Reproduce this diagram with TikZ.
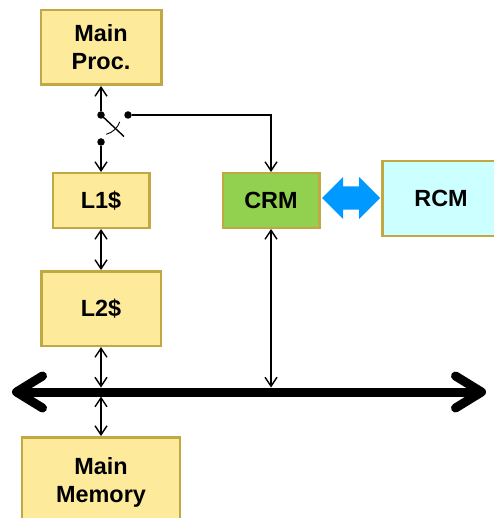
\documentclass[tikz,border=0pt]{standalone}
\usepackage{fontspec}
\setmainfont{Liberation Sans}
\usetikzlibrary{arrows.meta}
\definecolor{boxyellow}{HTML}{FDEA9A}
\definecolor{boxedge}{HTML}{C1A843}
\definecolor{crmgreen}{HTML}{92D050}
\definecolor{rcmcyan}{HTML}{CCFFFF}
\definecolor{linkblue}{HTML}{0099FF}
\begin{document}
\begin{tikzpicture}[x=1bp,y=-1bp,
  unitbox/.style={draw=boxedge, line width=2.5bp, fill=boxyellow, align=center,
    inner sep=0pt, font=\bfseries\fontsize{23.5}{28}\selectfont},
  conn/.style={line width=1.4bp, >={Straight Barb[length=9bp,width=12bp]}},
  busline/.style={line width=9bp, >={Straight Barb[length=26bp,width=32bp,round]}},
  swdot/.style={circle, fill=black, inner sep=0pt, minimum size=7.5bp}]
\clip (0,0) rectangle (494,518);

% processing units and memories
\node[unitbox, minimum width=120.5bp, minimum height=74.5bp] (proc) at (101,47.5) {Main\\Proc.};
\node[unitbox, minimum width=96.5bp, minimum height=54.5bp] (l1) at (101,200.5) {L1\$};
\node[unitbox, minimum width=119.5bp, minimum height=74.5bp] (l2) at (101,308.5) {L2\$};
\node[unitbox, fill=crmgreen, minimum width=96.5bp, minimum height=54.5bp] (crm) at (271,200.5) {CRM};
\node[unitbox, minimum width=157.5bp, minimum height=89.5bp] (mem) at (101,482) {Main\\Memory};

% wide link between CRM and RCM
\fill[linkblue] (322,198) -- (343,177) -- (343,186.4) -- (359,186.4) -- (359,177)
  -- (380,198) -- (359,219) -- (359,209.6) -- (343,209.6) -- (343,219) -- cycle;
\node[unitbox, fill=rcmcyan, minimum width=117.5bp, minimum height=74.5bp] (rcm) at (441,198.5) {RCM};

% switch between processor, L1 and CRM
\node[swdot] (pivot) at (101,115) {};
\node[swdot] (contact) at (128,115) {};
\node[swdot] (lower) at (101,142) {};
\coordinate (bladeEnd) at (124,136.5);
\draw[line width=1.4bp] (pivot.center) -- (bladeEnd);
\draw[line width=0.9bp] (pivot.center) ++(75:20) arc[start angle=75, end angle=20, radius=20];

\draw[conn, <-] (proc) -- (pivot);
\draw[conn, ->] (lower) -- (l1);
\draw[conn, ->] (contact) -| (crm);
\draw[conn, <->] (l1) -- (l2);

% system bus
\coordinate (busL) at (12,392);
\coordinate (busR) at (486,392);
\coordinate (tapA) at (101,387.5);
\coordinate (tapB) at (101,396.5);
\coordinate (tapC) at (271,387.5);
\draw[busline, <->] (busL) -- (busR);
\draw[conn, <->] (l2) -- (tapA);
\draw[conn, <->] (tapB) -- (mem);
\draw[conn, <->] (crm) -- (tapC);
\end{tikzpicture}
\end{document}
